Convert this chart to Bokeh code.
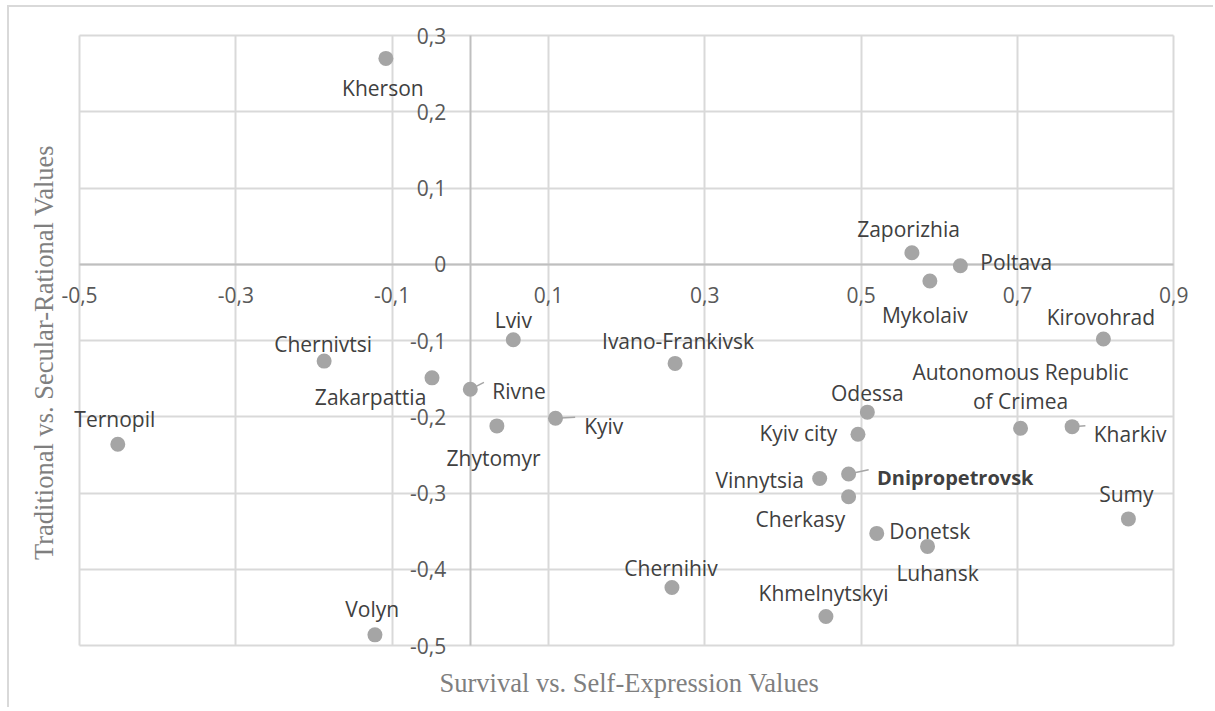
import math
from bokeh.plotting import figure
from bokeh.models import Range1d, FixedTicker, ColumnDataSource, BoxAnnotation, Title
from bokeh.core.properties import value
from bokeh.embed import file_html
from bokeh.resources import INLINE

# ---------------- data ----------------
regions = ["Kherson", "Lviv", "Ivano-Frankivsk", "Rivne", "Kyiv", "Zhytomyr",
           "Zaporizhia", "Poltava", "Mykolaiv", "Kirovohrad", "Odessa", "Kyiv city",
           "Autonomous Republic of Crimea", "Kharkiv", "Vinnytsia", "Dnipropetrovsk",
           "Cherkasy", "Sumy", "Donetsk", "Luhansk", "Chernihiv", "Khmelnytskyi",
           "Chernivtsi", "Zakarpattia", "Ternopil", "Volyn"]
survival_self_expression = [-0.108, 0.055, 0.262, 0.000, 0.109, 0.034,
                            0.565, 0.627, 0.588, 0.810, 0.508, 0.496,
                            0.704, 0.770, 0.447, 0.484,
                            0.484, 0.842, 0.520, 0.585, 0.258, 0.455,
                            -0.187, -0.049, -0.451, -0.122]
traditional_secular = [0.270, -0.099, -0.130, -0.164, -0.202, -0.212,
                       0.015, -0.002, -0.022, -0.098, -0.194, -0.223,
                       -0.215, -0.213, -0.281, -0.275,
                       -0.305, -0.334, -0.353, -0.370, -0.424, -0.462,
                       -0.127, -0.149, -0.236, -0.486]

x_ticks = [-0.5, -0.3, -0.1, 0.1, 0.3, 0.5, 0.7, 0.9]
x_tick_labels = ["-0,5", "-0,3", "-0,1", "0,1", "0,3", "0,5", "0,7", "0,9"]
y_ticks = [0.3, 0.2, 0.1, 0.0, -0.1, -0.2, -0.3, -0.4, -0.5]
y_tick_labels = ["0,3", "0,2", "0,1", "0", "-0,1", "-0,2", "-0,3", "-0,4", "-0,5"]
x_bounds = (-0.5, 0.9)
y_bounds = (-0.5, 0.3)

x_title = "Survival vs. Self-Expression Values"
y_title = "Traditional vs. Secular-Rational Values"

# ---------------- label placement (style only, screen px) ----------------
# name: (align, dx, dy_baseline, leader (angle_deg, length_px) or None)
placement = {
    "Kherson": ("center", -3, 29.6, None),
    "Lviv": ("center", 0, -19.7, None),
    "Ivano-Frankivsk": ("center", 3, -22.3, None),
    "Rivne": ("left", 22, 2, (27, 15.3)),
    "Kyiv": ("left", 28.7, 8, (3, 19.7)),
    "Zhytomyr": ("center", -3.3, 31.7, None),
    "Zaporizhia": ("center", -3.4, -24, None),
    "Poltava": ("left", 20, -3.6, None),
    "Mykolaiv": ("center", -5, 34.3, None),
    "Kirovohrad": ("center", -2.5, -22, None),
    "Odessa": ("center", 0, -19.4, None),
    "Kyiv city": ("right", -20.6, -1, None),
    "Autonomous Republic of Crimea": ("center", 0, -27, None),
    "Kharkiv": ("left", 21.6, 7.3, (4, 13.3)),
    "Vinnytsia": ("right", -15.7, 1, None),
    "Dnipropetrovsk": ("left", 28.4, 3.4, (12, 20.5)),
    "Cherkasy": ("right", -3.3, 22.3, None),
    "Sumy": ("center", -2, -25, None),
    "Donetsk": ("left", 12.6, -2.3, None),
    "Luhansk": ("center", 10, 27, None),
    "Chernihiv": ("center", -1, -20, None),
    "Khmelnytskyi": ("center", -2.4, -23.3, None),
    "Chernivtsi": ("center", -1, -16.7, None),
    "Zakarpattia": ("right", -5.7, 19.6, None),
    "Ternopil": ("center", -3, -25, None),
    "Volyn": ("center", -2.7, -25.7, None),
}
wrap = {"Autonomous Republic of Crimea": ["Autonomous Republic", "of Crimea"]}
bold = {"Dnipropetrovsk"}
LINE_GAP = 29

# ---------------- layout (screen px) ----------------
PX_X = 781.6          # px per x unit
PX_Y = 762.5          # px per y unit
PAD_L, PAD_R, PAD_T, PAD_B = 19, 22, 15, 15   # room for edge tick labels
FW = round((x_bounds[1] - x_bounds[0]) * PX_X) + PAD_L + PAD_R
FH = round((y_bounds[1] - y_bounds[0]) * PX_Y) + PAD_T + PAD_B
x0 = x_bounds[0] - PAD_L / PX_X
y1 = y_bounds[1] + PAD_T / PX_Y
BL, BT = 51, 13
BR = 1204 - BL - FW
BB = 700 - BT - FH

p = figure(frame_width=FW, frame_height=FH,
           min_border_left=BL, min_border_right=BR, min_border_top=BT, min_border_bottom=BB,
           x_range=Range1d(x0, x0 + FW / PX_X), y_range=Range1d(y1 - FH / PX_Y, y1),
           output_backend="svg", toolbar_location=None,
           background_fill_color="white", border_fill_color="white")
p.outline_line_color = None
p.styles = {"border-top": "2px solid #d9d9d9", "border-left": "2px solid #d9d9d9",
            "margin-left": "7px", "margin-top": "5px"}

for ax, ticks, labels, bnds in ((p.xaxis, x_ticks, x_tick_labels, x_bounds),
                                (p.yaxis, y_ticks, y_tick_labels, y_bounds)):
    ax.ticker = FixedTicker(ticks=ticks)
    ax.major_label_overrides = {float(t): l for t, l in zip(ticks, labels)}
    ax.fixed_location = 0
    ax.bounds = bnds
    ax.axis_line_color = "#bfbfbf"
    ax.axis_line_width = 2
    ax.major_tick_line_color = None
    ax.minor_tick_line_color = None
    ax.major_tick_out = 0
    ax.major_tick_in = 0
    ax.major_label_text_font = "Open Sans"
    ax.major_label_text_font_size = "21px"
    ax.major_label_text_color = "#595959"
p.xaxis.major_label_standoff = 23
p.yaxis.major_label_standoff = 24

p.xgrid.ticker = FixedTicker(ticks=x_ticks)
p.ygrid.ticker = FixedTicker(ticks=y_ticks)
for g in (p.xgrid, p.ygrid):
    g.grid_line_color = "#d9d9d9"
    g.grid_line_width = 2
p.xgrid.bounds = x_bounds
p.ygrid.bounds = y_bounds
try:
    p.xgrid.cross_bounds = y_bounds
    p.ygrid.cross_bounds = x_bounds
except Exception:
    for kw in (dict(right=x_bounds[0]), dict(left=x_bounds[1]),
               dict(bottom=y_bounds[1]), dict(top=y_bounds[0])):
        p.add_layout(BoxAnnotation(fill_color="white", fill_alpha=1, line_color=None,
                                   level="underlay", **kw))

# axis titles
p.add_layout(Title(text=x_title, text_font="Liberation Serif", text_font_size="26.5px",
                   text_font_style="normal", text_color="#7f7f7f", align="left",
                   offset=379, standoff=10), "below")
p.add_layout(Title(text=y_title, text_font="Liberation Serif", text_font_size="26.5px",
                   text_font_style="normal", text_color="#7f7f7f", align="left",
                   offset=100.5, standoff=3), "left")

# leader lines
lx, ly, lang, llen = [], [], [], []
for name, xv, yv in zip(regions, survival_self_expression, traditional_secular):
    lead = placement[name][3]
    if lead:
        lx.append(xv); ly.append(yv)
        lang.append(math.radians(lead[0])); llen.append(lead[1])
r_lead = p.ray(x=lx, y=ly, length=llen, angle=lang, length_units="screen",
               line_color="#a5a5a5", line_width=1.5)
r_lead.level = "annotation"

pts = p.scatter(x=survival_self_expression, y=traditional_secular, size=15,
                fill_color="#a5a5a5", line_color=None)
pts.level = "annotation"

# data labels
tx, ty, tt, ta, tdx, tdy, tst, tfs = [], [], [], [], [], [], [], []
for name, xv, yv in zip(regions, survival_self_expression, traditional_secular):
    align, dx, dy, _ = placement[name]
    lines = wrap.get(name, [name])
    n = len(lines)
    for k, line in enumerate(lines):
        tx.append(xv); ty.append(yv); tt.append(line); ta.append(align)
        tdx.append(dx); tdy.append(dy - (n - 1 - k) * LINE_GAP)
        tst.append("bold" if name in bold else "normal")
        tfs.append("20px" if name in bold else "21px")
src = ColumnDataSource(dict(x=tx, y=ty, text=tt, align=ta, dx=tdx, dy=tdy, st=tst, fs=tfs))
lab = p.text(x="x", y="y", text="text", source=src, x_offset="dx", y_offset="dy",
             text_align="align", text_baseline="alphabetic", text_font=value("Open Sans"),
             text_font_size="fs", text_color="#404040", text_font_style="st")
lab.level = "annotation"

open("out.html", "w").write(file_html(p, INLINE))
